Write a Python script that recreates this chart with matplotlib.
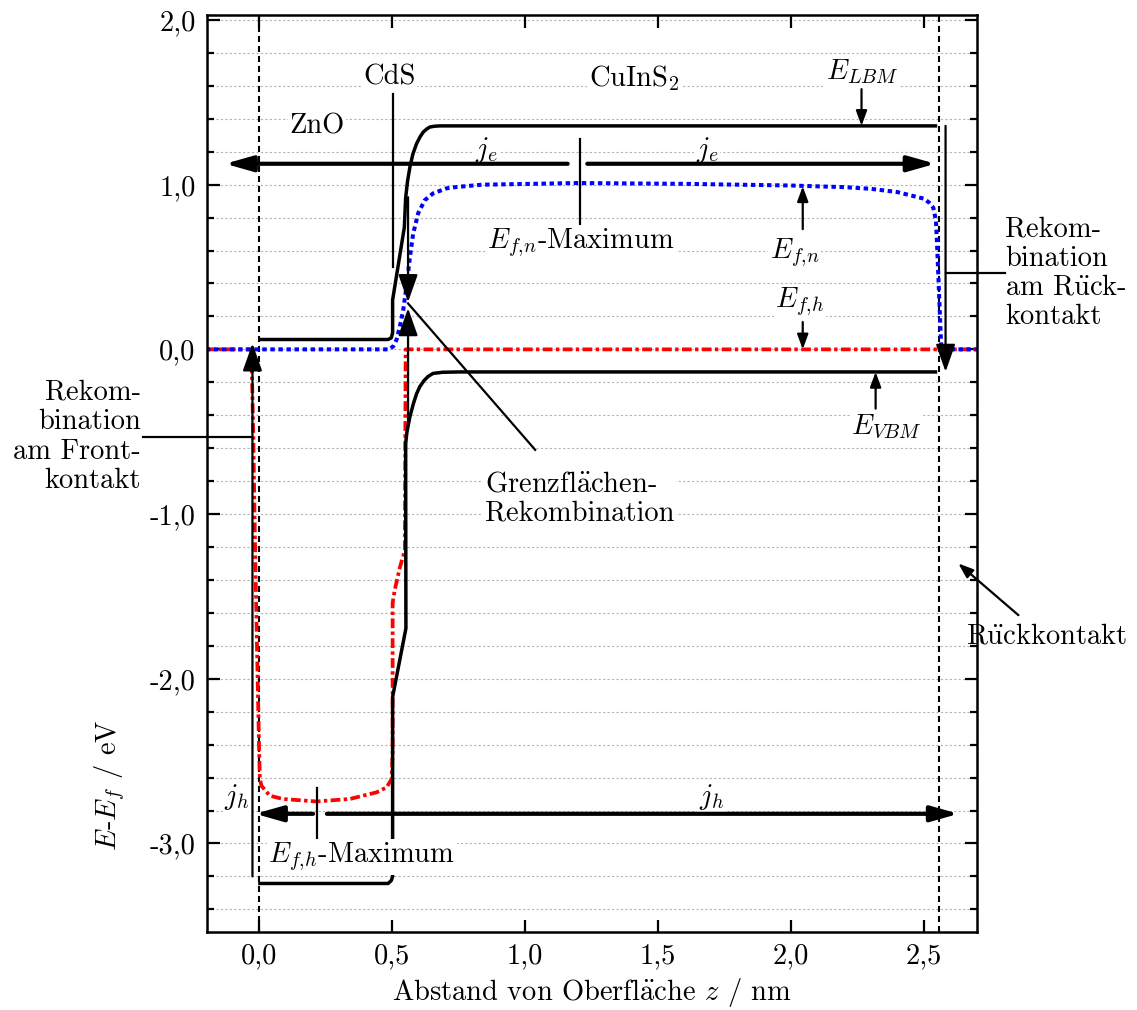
import matplotlib
matplotlib.use("Agg")
import matplotlib.pyplot as plt
import numpy as np

plt.rcParams['font.family'] = ['cmr10', 'DejaVu Serif']
plt.rcParams['mathtext.fontset'] = 'cm'
plt.rcParams['axes.formatter.use_mathtext'] = True
plt.rcParams['font.size'] = 20.5

# band edges and quasi Fermi levels (eV) vs depth z (nm)
cb_z = [0.003, 0.485, 0.497, 0.502, 0.502, 0.546, 0.551, 0.558, 0.567, 0.578, 0.592, 0.605,
        0.617, 0.63, 0.642, 0.66, 0.68, 2.543]
cb_e = [0.06, 0.06, 0.07, 0.1, 0.3, 0.74, 0.92, 1.02, 1.107, 1.185, 1.249, 1.29,
        1.319, 1.338, 1.35, 1.355, 1.357, 1.357]

vb_z = [0.003, 0.485, 0.497, 0.502, 0.502, 0.552, 0.551, 0.556, 0.567, 0.58, 0.592, 0.604,
        0.62, 0.635, 0.654, 0.69, 0.755, 2.543]
vb_e = [-3.243, -3.243, -3.225, -3.2, -2.11, -1.694, -0.571, -0.5, -0.409, -0.33, -0.27, -0.227,
        -0.19, -0.165, -0.146, -0.139, -0.137, -0.137]

efn_z = [-0.2, 0.49, 0.505, 0.517, 0.529, 0.542, 0.554, 0.567, 0.579, 0.598, 0.623, 0.654, 0.705,
         0.748, 0.84, 1.2, 1.6, 2.0, 2.2, 2.3, 2.4, 2.45, 2.5, 2.52, 2.535, 2.545, 2.55, 2.56,
         2.565, 2.7]
efn_e = [0, 0, 0.02, 0.06, 0.137, 0.24, 0.38, 0.56, 0.70, 0.826, 0.906, 0.947, 0.978,
         0.987, 1.0, 1.01, 1.005, 0.995, 0.985, 0.975, 0.955, 0.935, 0.915, 0.89, 0.86, 0.78, 0.6, 0.2,
         0, 0]

efh_z = [-0.2, -0.029, -0.022, -0.016, -0.008, 0.0, 0.003, 0.009, 0.04, 0.089, 0.216, 0.341,
         0.441, 0.479, 0.498, 0.502, 0.502, 0.51, 0.53, 0.548, 0.551, 2.7]
efh_e = [0, 0, -0.51, -1.12, -1.8, -2.43, -2.61, -2.65, -2.71, -2.73, -2.745, -2.73,
         -2.69, -2.66, -2.61, -2.45, -1.54, -1.46, -1.32, -1.22, 0, 0]

front_z, back_z = 0.0, 2.557

xticks = [0.0, 0.5, 1.0, 1.5, 2.0, 2.5]
xlabels = ['0,0', '0,5', '1,0', '1,5', '2,0', '2,5']
yticks = [2.0, 1.0, 0.0, -1.0, -2.0, -3.0]
ylabels = ['2,0', '1,0', '0,0', '-1,0', '-2,0', '-3,0']

AE = r'$\ddot{\mathrm{a}}$'
UE = r'$\ddot{\mathrm{u}}$'

fig = plt.figure(figsize=(11.37, 10.10), dpi=100)
ax = fig.add_axes([0.1818, 0.0775, 0.6772, 0.9076])
ax.set_xlim(-0.197, 2.698)
ax.set_ylim(-3.536, 2.03)

for y in np.arange(-3.4, 2.01, 0.2):
    ax.axhline(y, color='#b4b4b4', lw=0.8, ls=(0, (2, 2)), zorder=0)

ax.axvline(front_z, color='k', lw=1.5, ls=(0, (2.9, 1.9)), zorder=1)
ax.axvline(back_z, color='k', lw=1.5, ls=(0, (2.9, 1.9)), zorder=1)

ax.plot(efh_z, efh_e, color='red', lw=2.7, ls=(0, (2.6, 0.9, 0.9, 0.9)), zorder=2)
ax.plot(efn_z, efn_e, color='blue', lw=2.9, ls=(0, (1.1, 0.9)), zorder=2)
ax.plot(cb_z, cb_e, color='k', lw=2.5, zorder=3, solid_joinstyle='round')
ax.plot(vb_z, vb_e, color='k', lw=2.5, zorder=3, solid_joinstyle='round')


def arrow(tail, tip, lw=1.5, hl=0.8, hw=0.28, ms=20):
    ax.annotate('', xy=tip, xytext=tail, zorder=6, annotation_clip=False,
                arrowprops=dict(arrowstyle='-|>,head_length=%g,head_width=%g' % (hl, hw),
                                lw=lw, color='k', mutation_scale=ms,
                                shrinkA=0, shrinkB=0))


def line(xs, ys, lw=1.6):
    ax.plot(xs, ys, color='k', lw=lw, zorder=4, clip_on=False)


box = dict(fc='white', ec='none', pad=1)

# current arrows
arrow((1.16, 1.127), (-0.128, 1.127), lw=3.0, hl=0.83, hw=0.235)
arrow((1.234, 1.127), (2.543, 1.127), lw=3.0, hl=0.83, hw=0.235)
arrow((0.203, -2.82), (-0.015, -2.82), lw=3.0, hl=0.83, hw=0.235)
arrow((0.255, -2.82), (2.63, -2.82), lw=3.0, hl=0.83, hw=0.235)

# marker lines
line([0.502, 0.502], [0.5, 1.55])
line([1.206, 1.206], [0.735, 1.28])
line([0.216, 0.216], [-2.666, -2.98])

# recombination at the contacts
arrow((-0.025, -3.2), (-0.025, 0.036), lw=1.6, hl=0.85, hw=0.3)
line([-0.437, -0.025], [-0.53, -0.53])
arrow((2.581, 1.357), (2.581, -0.136), lw=1.6, hl=0.85, hw=0.3)
line([2.581, 2.805], [0.463, 0.463])

# interface recombination
arrow((0.56, 0.924), (0.56, 0.287), lw=1.6, hl=0.85, hw=0.3)
arrow((0.56, -0.43), (0.56, 0.25), lw=1.6, hl=0.85, hw=0.3)
line([0.56, 1.038], [0.279, -0.61])

# level labels
arrow((2.265, 1.58), (2.265, 1.357), lw=1.6, hl=0.6, hw=0.22, ms=15)
arrow((2.044, 0.73), (2.044, 0.99), lw=1.6, hl=0.6, hw=0.22, ms=15)
arrow((2.044, 0.166), (2.044, 0.0), lw=1.6, hl=0.6, hw=0.22, ms=15)
arrow((2.318, -0.36), (2.318, -0.137), lw=1.6, hl=0.6, hw=0.22, ms=15)
arrow((2.855, -1.614), (2.629, -1.30), lw=1.6, hl=0.6, hw=0.22, ms=15)

txt = dict(ha='center', va='center', zorder=5, bbox=box)
ax.text(0.218, 1.357, 'ZnO', **txt)
ax.text(0.49, 1.65, 'CdS', **txt)
ax.text(1.41, 1.65, r'CuInS$_2$', **txt)
ax.text(2.267, 1.685, r'$E_{LBM}$', **txt)
ax.text(0.855, 1.21, r'$j_e$', **txt)
ax.text(1.684, 1.21, r'$j_e$', **txt)
ax.text(1.21, 0.645, r'$E_{f{,}n}$-Maximum', **txt)
ax.text(2.014, 0.59, r'$E_{f{,}n}$', **txt)
ax.text(2.033, 0.29, r'$E_{f{,}h}$', **txt)
ax.text(2.36, -0.47, r'$E_{VBM}$', **txt)
ax.text(-0.083, -2.72, r'$j_h$', **txt)
ax.text(1.70, -2.72, r'$j_h$', **txt)
ax.text(0.386, -3.083, r'$E_{f{,}h}$-Maximum', **txt)
ax.text(0.849, -0.906, 'Grenzfl' + AE + 'chen-\nRekombination', ha='left', va='center',
        zorder=5, bbox=box, linespacing=1.15)
ax.text(-0.445, -0.53, 'Rekom-\nbination\nam Front-\nkontakt', ha='right', va='center',
        multialignment='right', linespacing=1.15, clip_on=False)
ax.text(2.805, 0.463, 'Rekom-\nbination\nam R' + UE + 'ck-\nkontakt', ha='left', va='center',
        linespacing=1.15, clip_on=False)
ax.text(2.96, -1.745, 'R' + UE + 'ckkontakt', ha='center', va='center', clip_on=False)

ax.set_xticks(xticks)
ax.set_xticklabels(xlabels)
ax.set_yticks(yticks)
ax.set_yticklabels(ylabels)
ax.set_yticks(np.arange(-3.4, 2.01, 0.2), minor=True)
ax.tick_params(which='both', direction='in', top=True, right=True, width=1.6)
ax.tick_params(which='major', length=9, pad=8)
ax.tick_params(which='minor', length=5)
ax.tick_params(axis='x', which='minor', top=False, bottom=False)
for s in ax.spines.values():
    s.set_linewidth(1.8)

ax.set_xlabel('Abstand von Oberfl' + AE + r'che $z$ / nm', labelpad=5)
ax.set_ylabel(r'$E$-$E_f$ / eV')
ax.yaxis.set_label_coords(-0.104, 0.16)

fig.savefig('out.png', dpi=100)
